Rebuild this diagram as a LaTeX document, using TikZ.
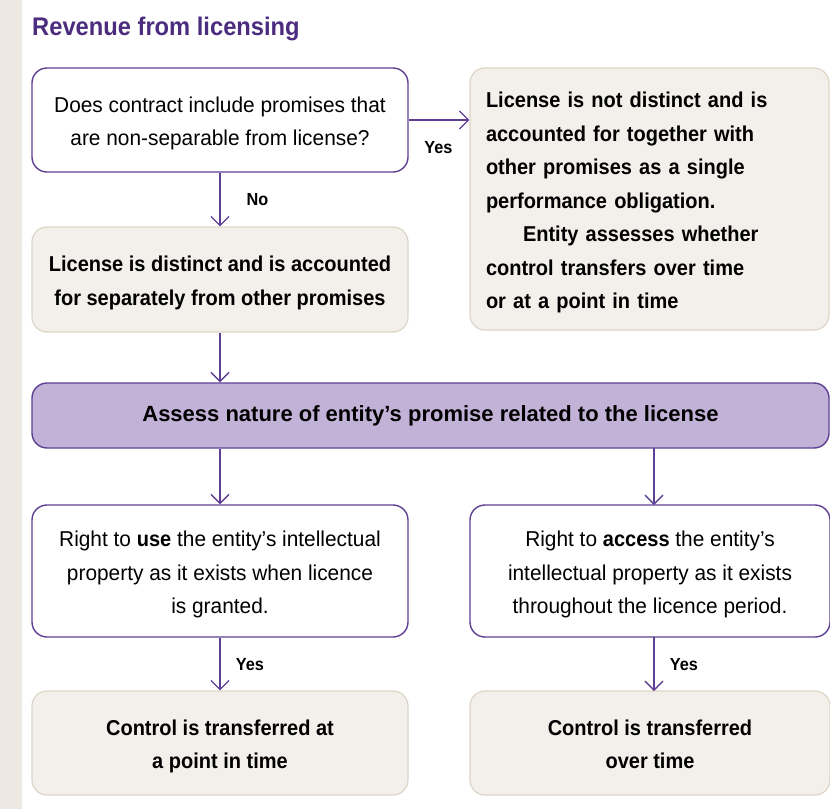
\documentclass[tikz,border=0pt]{standalone}
\usepackage{fontspec}
\setmainfont[FakeStretch=0.97, BoldFeatures={FakeStretch=0.93}]{Liberation Sans}
\newfontfamily\headfont[FakeStretch=1.0, BoldFeatures={FakeStretch=1.0}]{Liberation Sans}
\usetikzlibrary{arrows.meta}
\definecolor{titlepurple}{HTML}{4C2C7E}
\definecolor{pborder}{HTML}{5E3F94}
\definecolor{pfill}{HTML}{C3B2D7}
\definecolor{beige}{HTML}{F3F0EB}
\definecolor{bborder}{HTML}{DDD4C6}
\definecolor{strip}{HTML}{EDE8E2}
\newcommand\fh{\rule{0pt}{26pt}}
\newcommand\ld{\rule[-8pt]{0pt}{8pt}}
\tikzset{
  x=1pt, y=-1pt,
  qbox/.style={draw=pborder, line width=1.4pt, fill=white, rounded corners=15pt,
    align=center, inner sep=0pt, font=\fontsize{21.5}{33.5}\selectfont},
  abox/.style={draw=bborder, line width=1.2pt, fill=beige, rounded corners=15pt,
    align=center, inner sep=0pt, font=\fontsize{21.5}{33.5}\selectfont\bfseries},
  hbox/.style={draw=pborder, line width=1.4pt, fill=pfill, rounded corners=15pt,
    align=center, inner sep=0pt, font=\headfont\fontsize{22}{33.5}\selectfont\bfseries},
  flow/.style={draw=pborder, line width=1.3pt, -{Straight Barb[length=9pt,width=18pt,line width=1.3pt]}},
  lab/.style={font=\fontsize{17.5}{20}\selectfont\bfseries, inner sep=0pt},
}
\begin{document}
\begin{tikzpicture}
\useasboundingbox (0,0) rectangle (830,809);
\fill[strip] (0,0) rectangle (22,809);
\node[anchor=base west, inner sep=0pt, text=titlepurple, font=\fontsize{25.5}{30}\selectfont\bfseries] (title) at (32,35) {Revenue from licensing};

\node[qbox, minimum width=376, minimum height=104] (b1) at (220,120)
  {\fh Does contract include promises that\\are non-separable from license?\ld};
\node[abox, minimum width=376, minimum height=105] (b2) at (220,279.5)
  {\fh License is distinct and is accounted\\for separately from other promises\ld};
\node[abox, minimum width=359, minimum height=262, text width=327, align=left, inner xsep=16] (b3) at (649.5,199)
  {\fh License is not distinct and is\\accounted for together with\\other promises as a single\\performance obligation.\\\hspace*{37pt}Entity assesses whether\\control transfers over time\\or at a point in time\ld};
\node[hbox, minimum width=797, minimum height=65] (p) at (430.5,415.5)
  {Assess nature of entity’s promise related to the license};
\node[qbox, minimum width=376, minimum height=132] (b4) at (220,571)
  {\fh Right to \textbf{use} the entity’s intellectual\\property as it exists when licence\\is granted.\ld};
\node[qbox, minimum width=360, minimum height=132] (b5) at (650,571)
  {\fh Right to \textbf{access} the entity’s\\intellectual property as it exists\\throughout the licence period.\ld};
\node[abox, minimum width=376, minimum height=104] (b6) at (220,743)
  {\fh Control is transferred at\\a point in time\ld};
\node[abox, minimum width=360, minimum height=104] (b7) at (650,743)
  {\fh Control is transferred\\over time\ld};

\coordinate (pr) at (654,448);
\coordinate (b5top) at (654,505);
\coordinate (b5bot) at (654,637);
\coordinate (b7top) at (654,691);

\draw[flow] (b1.south) -- (b2.north);
\node[lab] (no) at (257.5,200) {No};
\draw[flow] (b1.east) -- (b1.east -| b3.west);
\node[lab] (yes1) at (438.5,148) {Yes};
\draw[flow] (b2.south) -- (b2.south |- p.north);
\draw[flow] (p.south -| b4.north) -- (b4.north);
\draw[flow] (pr) -- (b5top);
\draw[flow] (b4.south) -- (b6.north);
\node[lab] (yes2) at (250,665) {Yes};
\draw[flow] (b5bot) -- (b7top);
\node[lab] (yes3) at (684,665) {Yes};
\end{tikzpicture}
\end{document}
